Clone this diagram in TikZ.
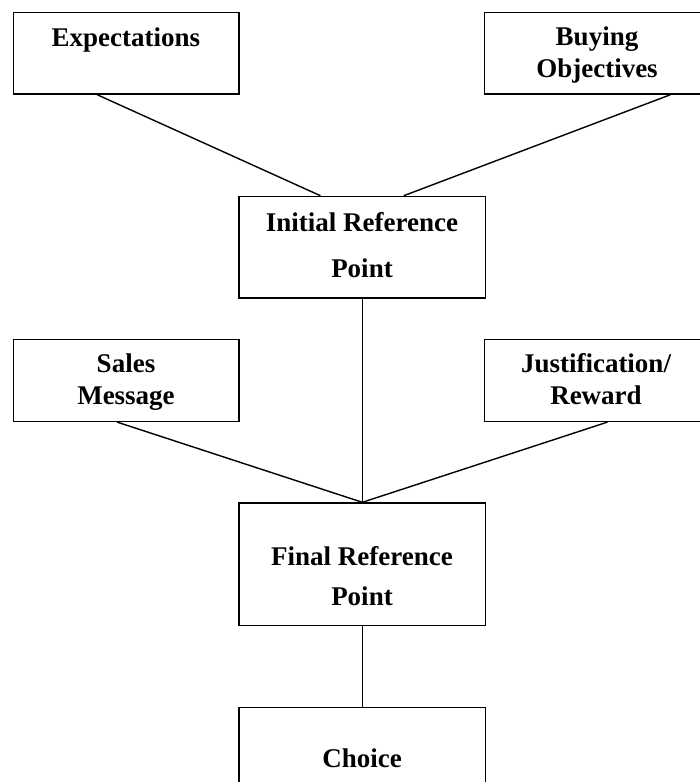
\documentclass[tikz,border=0pt]{standalone}
\usepackage{fontspec}
\setmainfont{Liberation Serif}
\usetikzlibrary{calc}
\tikzset{
  boxnode/.style={draw=black, line width=1.4pt, inner sep=0pt, anchor=north west},
  txt/.style={anchor=base, inner sep=0pt, align=center, font=\bfseries\fontsize{27}{#1}\selectfont},
  txt/.default=32,
  conn/.style={draw=black, line width=1.4pt}
}
\begin{document}
\begin{tikzpicture}[x=1pt,y=-1pt]
\useasboundingbox (0,0) rectangle (700,782);
\clip (0,0) rectangle (700,782);
% boxes
\node[boxnode, minimum width=225.6pt, minimum height=81.6pt] (exp) at (12.7,11.7) {};
\node[boxnode, minimum width=226pt, minimum height=81.6pt] (buy) at (484,11.7) {};
\node[boxnode, minimum width=246.7pt, minimum height=101.6pt] (irp) at (238.3,195.7) {};
\node[boxnode, minimum width=225.6pt, minimum height=81.7pt] (sm) at (12.7,339) {};
\node[boxnode, minimum width=226pt, minimum height=81.7pt] (jr) at (484,339) {};
\node[boxnode, minimum width=246.7pt, minimum height=122.7pt] (frp) at (238.3,502.3) {};
\node[boxnode, minimum width=246.7pt, minimum height=113.3pt] (ch) at (238.3,706.7) {};
% texts (anchor base = baseline of the last line)
\node[txt] (expt) at (125.8,46.7) {Expectations};
\node[txt] (buyt) at (597,77) {Buying\\Objectives};
\node[txt=45.5] (irpt) at (362,277) {Initial Reference\\Point};
\node[txt=31.5] (smt) at (126,404) {Sales\\Message};
\node[txt=31.5] (jrt) at (596,404) {Justification/\\Reward};
\node[txt=40] (frpt) at (362,605) {Final Reference\\Point};
\node[txt] (cht) at (362,767.3) {Choice};
% connectors
\draw[conn] ($(exp.south west)!0.372!(exp.south east)$) -- ($(irp.north west)!0.331!(irp.north east)$);
\draw[conn] ($(buy.south west)!0.82!(buy.south east)$) -- ($(irp.north west)!0.667!(irp.north east)$);
\draw[conn] (irp.south) -- (frp.north);
\draw[conn] ($(sm.south west)!0.46!(sm.south east)$) -- (frp.north);
\draw[conn] ($(jr.south west)!0.543!(jr.south east)$) -- (frp.north);
\draw[conn] (frp.south) -- (ch.north);
\end{tikzpicture}
\end{document}
